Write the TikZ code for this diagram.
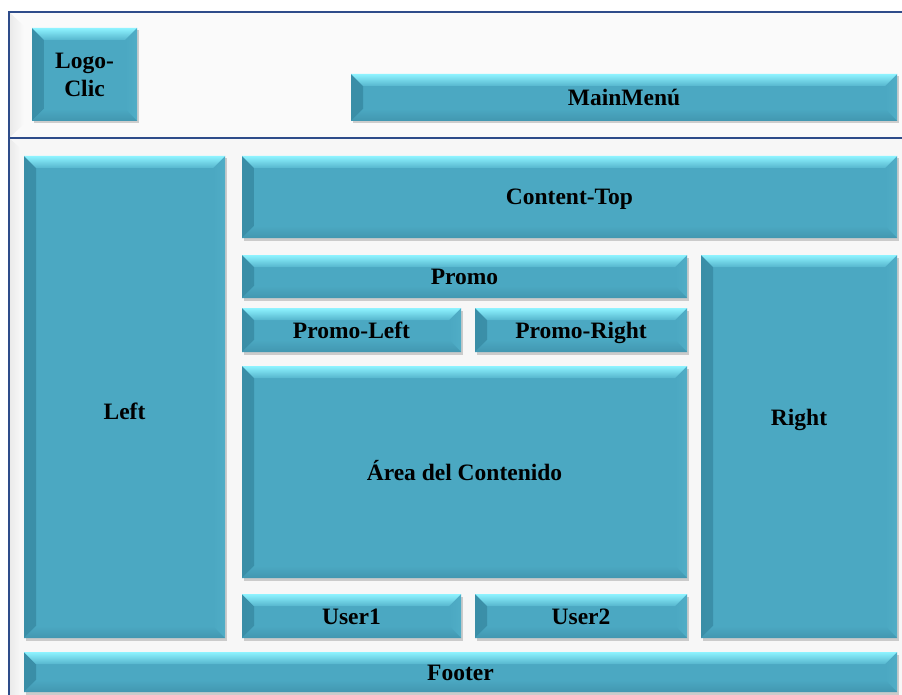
\documentclass[tikz,border=0pt]{standalone}
\usepackage{fontspec}
\setmainfont{Liberation Serif}
\usepackage{tikz}
\usetikzlibrary{calc,shadows}
\definecolor{face}{HTML}{4BA8C2}
\definecolor{bevtop}{HTML}{8EF3FF}
\definecolor{bevmid}{HTML}{56B6CE}
\definecolor{bevleft}{HTML}{3A8EA7}
\definecolor{bevright}{HTML}{50ADC6}
\definecolor{bevbot}{HTML}{4297B0}
\definecolor{frameline}{HTML}{2E4C8A}
\definecolor{pagebg}{HTML}{F7F7F7}
\definecolor{headbg}{HTML}{FAFAFA}
\definecolor{headbev}{HTML}{E9E9E9}
\newcommand{\bev}{12pt}
\tikzset{
  frame/.style={draw=frameline, line width=2.2pt},
  panel/.style={rectangle, fill=face, inner sep=0pt, align=center,
    text height=16pt, text depth=0pt,
    font=\bfseries\fontsize{23.5}{28}\selectfont,
    drop shadow={shadow xshift=1.5pt, shadow yshift=-2.5pt, opacity=0.3, fill=black!60},
    path picture={
      \shade[left color=bevleft, right color=face] (path picture bounding box.north west)
        -- ($(path picture bounding box.north west)+(\bev,-\bev)$)
        -- ($(path picture bounding box.south west)+(\bev,\bev)$)
        -- (path picture bounding box.south west) -- cycle;
      \shade[left color=face, right color=bevright] (path picture bounding box.north east)
        -- ($(path picture bounding box.north east)+(-\bev,-\bev)$)
        -- ($(path picture bounding box.south east)+(-\bev,\bev)$)
        -- (path picture bounding box.south east) -- cycle;
      \shade[top color=face, bottom color=bevbot] (path picture bounding box.south west)
        -- ($(path picture bounding box.south west)+(\bev,\bev)$)
        -- ($(path picture bounding box.south east)+(-\bev,\bev)$)
        -- (path picture bounding box.south east) -- cycle;
      \shade[top color=bevtop, bottom color=bevmid] (path picture bounding box.north west)
        -- ($(path picture bounding box.north west)+(\bev,-\bev)$)
        -- ($(path picture bounding box.north east)+(-\bev,-\bev)$)
        -- (path picture bounding box.north east) -- cycle;
    }},
  size/.style 2 args={minimum width=#1pt, minimum height=#2pt}
}
\begin{document}
\begin{tikzpicture}[x=1pt, y=-1pt]
  \useasboundingbox (0,0) rectangle (902,695);
  % page and header band
  \fill[white] (0,0) rectangle (902,695);
  \fill[pagebg] (9,138) rectangle (902,695);
  \fill[headbg] (9,12) rectangle (902,138);
  \shade[left color=headbev, right color=headbg] (9,12) -- (24,26) -- (24,124) -- (9,138) -- cycle;
  \shade[left color=headbev, right color=pagebg] (9,138) -- (20,148) -- (20,695) -- (9,695) -- cycle;
  \draw[frame] (902,12) -- (9,12) -- (9,695);
  \draw[frame] (9,138) -- (902,138);
  % header
  \node[panel, size={105}{93}, text height=, text depth=] (logo) at (84.5,74.5) {Logo-\\Clic};
  \node[panel, size={546}{47}] (mainmenu) at (624,97.5) {MainMenú};
  % body
  \node[panel, size={201}{482}, text height=44pt] (left) at (124.5,397) {Left};
  \node[panel, size={655}{82}] (contenttop) at (569.5,197) {Content-Top};
  \node[panel, size={445}{43}] (promo) at (464.5,276.5) {Promo};
  \node[panel, size={196}{383}, text depth=58pt] (right) at (799,446.5) {Right};
  \node[panel, size={219}{44}] (promoleft) at (351.5,330) {Promo-Left};
  \node[panel, size={212}{44}] (promoright) at (581,330) {Promo-Right};
  \node[panel, size={445}{212}] (content) at (464.5,472) {Área del Contenido};
  \node[panel, size={219}{44}] (user1) at (351.5,616) {User1};
  \node[panel, size={212}{44}] (user2) at (581,616) {User2};
  \node[panel, size={873}{40}] (footer) at (460.5,672) {Footer};
\end{tikzpicture}
\end{document}
